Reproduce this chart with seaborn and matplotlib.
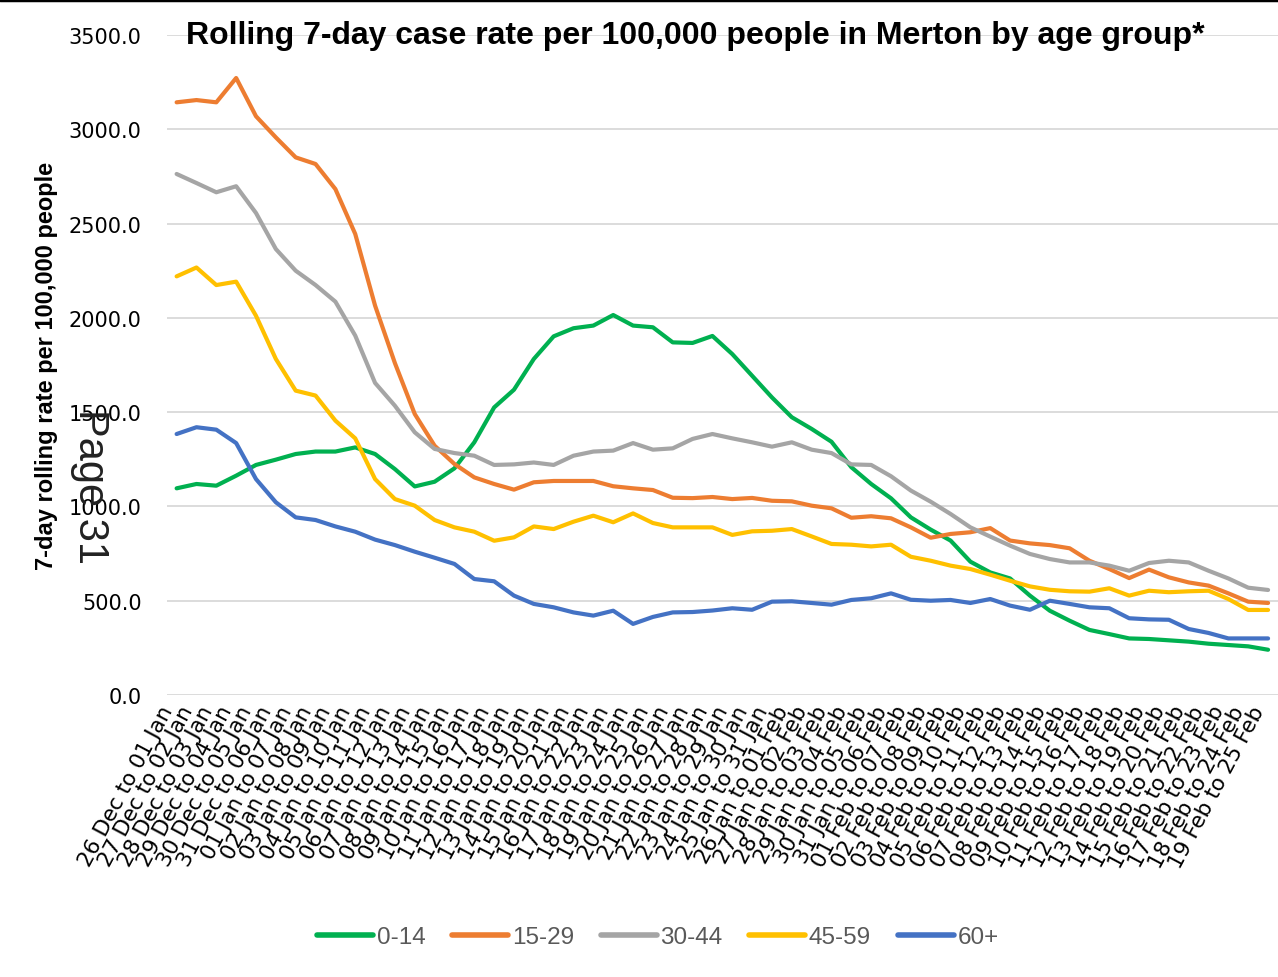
import matplotlib
matplotlib.use("Agg")
import matplotlib.pyplot as plt
import seaborn as sns
import pandas as pd
from matplotlib.lines import Line2D

week_labels = [
    "26 Dec to 01 Jan", "27 Dec to 02 Jan", "28 Dec to 03 Jan", "29 Dec to 04 Jan",
    "30 Dec to 05 Jan", "31 Dec to 06 Jan", "01 Jan to 07 Jan", "02 Jan to 08 Jan",
    "03 Jan to 09 Jan", "04 Jan to 10 Jan", "05 Jan to 11 Jan", "06 Jan to 12 Jan",
    "07 Jan to 13 Jan", "08 Jan to 14 Jan", "09 Jan to 15 Jan", "10 Jan to 16 Jan",
    "11 Jan to 17 Jan", "12 Jan to 18 Jan", "13 Jan to 19 Jan", "14 Jan to 20 Jan",
    "15 Jan to 21 Jan", "16 Jan to 22 Jan", "17 Jan to 23 Jan", "18 Jan to 24 Jan",
    "19 Jan to 25 Jan", "20 Jan to 26 Jan", "21 Jan to 27 Jan", "22 Jan to 28 Jan",
    "23 Jan to 29 Jan", "24 Jan to 30 Jan", "25 Jan to 31 Jan", "26 Jan to 01 Feb",
    "27 Jan to 02 Feb", "28 Jan to 03 Feb", "29 Jan to 04 Feb", "30 Jan to 05 Feb",
    "31 Jan to 06 Feb", "01 Feb to 07 Feb", "02 Feb to 08 Feb", "03 Feb to 09 Feb",
    "04 Feb to 10 Feb", "05 Feb to 11 Feb", "06 Feb to 12 Feb", "07 Feb to 13 Feb",
    "08 Feb to 14 Feb", "09 Feb to 15 Feb", "10 Feb to 16 Feb", "11 Feb to 17 Feb",
    "12 Feb to 18 Feb", "13 Feb to 19 Feb", "14 Feb to 20 Feb", "15 Feb to 21 Feb",
    "16 Feb to 22 Feb", "17 Feb to 23 Feb", "18 Feb to 24 Feb", "19 Feb to 25 Feb",
]

age_0_14 = [1096, 1119, 1110, 1163, 1220, 1248, 1278, 1291, 1291, 1313, 1278, 1198, 1106, 1131,
            1202, 1340, 1525, 1619, 1782, 1902, 1945, 1959, 2015, 1959, 1950, 1870, 1867, 1904,
            1808, 1693, 1578, 1473, 1411, 1343, 1208, 1119, 1043, 942, 877, 819, 707, 650,
            618, 527, 447, 394, 345, 323, 300, 297, 290, 283, 272, 265, 258, 240]
age_15_29 = [3143, 3155, 3143, 3272, 3069, 2957, 2851, 2816, 2683, 2445, 2065, 1760, 1490, 1322,
             1225, 1154, 1119, 1089, 1128, 1135, 1135, 1135, 1107, 1096, 1087, 1046, 1044, 1050,
             1039, 1045, 1030, 1027, 1004, 990, 940, 948, 937, 889, 834, 854, 863, 885,
             819, 804, 795, 778, 712, 668, 620, 665, 624, 597, 580, 539, 495, 488]
age_30_44 = [2763, 2715, 2666, 2698, 2556, 2365, 2250, 2174, 2086, 1906, 1655, 1534, 1393, 1305,
             1283, 1269, 1220, 1223, 1233, 1220, 1269, 1291, 1296, 1336, 1301, 1308, 1358, 1384,
             1361, 1340, 1317, 1340, 1301, 1283, 1223, 1220, 1160, 1084, 1025, 960, 889, 840,
             792, 748, 721, 703, 703, 686, 659, 700, 712, 703, 659, 618, 569, 557]
age_45_59 = [2220, 2267, 2174, 2192, 2011, 1782, 1614, 1588, 1455, 1361, 1145, 1039, 1004, 928,
             889, 866, 818, 836, 894, 880, 919, 951, 916, 963, 912, 889, 889, 889,
             849, 868, 871, 880, 841, 801, 797, 788, 797, 733, 712, 686, 668, 638,
             606, 576, 558, 550, 548, 566, 527, 553, 545, 550, 553, 509, 451, 451]
age_60_plus = [1384, 1420, 1407, 1336, 1145, 1022, 942, 928, 894, 866, 824, 795, 760, 728,
               695, 615, 603, 527, 483, 465, 438, 421, 447, 377, 414, 438, 440, 448,
               460, 452, 495, 497, 488, 479, 504, 513, 539, 505, 500, 504, 488, 509,
               474, 452, 500, 483, 465, 460, 407, 401, 399, 350, 329, 300, 300, 300]

groups = ["0-14", "15-29", "30-44", "45-59", "60+"]
colors = ["#00B050", "#ED7D31", "#A5A5A5", "#FFC000", "#4472C4"]
y_ticks = [0, 500, 1000, 1500, 2000, 2500, 3000, 3500]

series = [age_0_14, age_15_29, age_30_44, age_45_59, age_60_plus]
frames = []
for g, vals in zip(groups, series):
    frames.append(pd.DataFrame({"idx": range(len(vals)), "rate": vals, "group": g}))
df = pd.concat(frames, ignore_index=True)

sns.set_style("white")
plt.rcParams["font.family"] = ["DejaVu Sans"]
plt.rcParams["text.color"] = "black"
plt.rcParams["xtick.color"] = "black"
plt.rcParams["ytick.color"] = "black"
plt.rcParams["axes.labelcolor"] = "black"

fig = plt.figure(figsize=(12.78, 9.78), dpi=100)
ax = fig.add_axes([166.7 / 1278, 1 - 696 / 978, (1278 - 166.7) / 1278, (696 - 36) / 978])

sns.lineplot(data=df, x="idx", y="rate", hue="group", hue_order=groups,
             palette=colors, linewidth=3.0, ax=ax, legend=False)

ax.set_xlim(-0.5, len(week_labels) - 0.5)
ax.set_ylim(0, 3500)
ax.set_yticks(y_ticks)
ax.set_yticklabels([f"{v:.1f}" for v in y_ticks], fontsize=15)
ax.set_xticks(range(len(week_labels)))
ax.set_xticklabels(week_labels, rotation=62, ha="right", rotation_mode="default", fontsize=15.5)
ax.tick_params(axis="both", length=0, pad=5)
ax.tick_params(axis="y", pad=18)
ax.grid(axis="y", color="#D9D9D9", linewidth=1.3)
ax.set_axisbelow(True)
for s in ax.spines.values():
    s.set_visible(False)
ax.set_xlabel("")
ax.set_ylabel("7-day rolling rate per 100,000 people", fontsize=17, fontweight="bold",
              family="Liberation Sans")
ax.yaxis.set_label_coords(-0.098, 0.5)

fig.text(695 / 1278, 1 - 36 / 978, "Rolling 7-day case rate per 100,000 people in Merton by age group*",
         ha="center", va="center", fontsize=23, fontweight="bold", family="Liberation Sans")

fig.text(90 / 1278, 1 - 487 / 978, "Page 31", rotation=-90, ha="center", va="center",
         fontsize=30, family="Liberation Sans", color="#222222")

handles = [Line2D([0], [0], color=c, linewidth=4) for c in colors]
leg = fig.legend(handles, groups, loc="center", bbox_to_anchor=(658 / 1278, 1 - 938 / 978),
                 ncol=5, frameon=False, fontsize=17.5, handlelength=2.3, handletextpad=0.15,
                 columnspacing=1.1)
for t in leg.get_texts():
    t.set_color("#595959")
    t.set_family("Liberation Sans")

fig.add_artist(Line2D([0, 1], [0.999, 0.999], color="black", linewidth=2.5,
                      transform=fig.transFigure))

fig.savefig("out.png", dpi=100)
